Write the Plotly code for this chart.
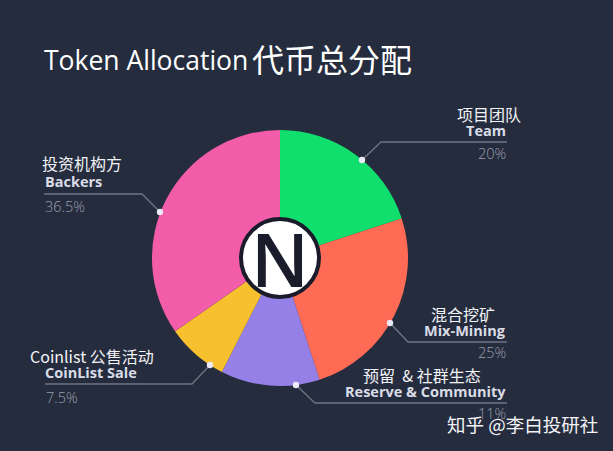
import plotly.graph_objects as go

# ==============================================================================
# DATA
# ==============================================================================

names_en = ['Team', 'Mix-Mining', 'Reserve & Community', 'CoinList Sale', 'Backers']
names_cn = ['项目团队', '混合挖矿', '预留\u00a0\u00a0&\u00a0社群生态', 'Coinlist 公售活动', '投资机构方']
# slice sizes as drawn in the picture (they differ a little from the printed labels)
shares = [20, 25, 12.5, 7.8, 34.7]
share_labels = ['20%', '25%', '11%', '7.5%', '36.5%']

# ==============================================================================
# STYLE / LAYOUT (pixel positions of the 613x451 picture)
# ==============================================================================

W, H = 613, 451
BG = '#252c3e'
FONT = 'Open Sans, Noto Sans CJK SC, sans-serif'
CJK = 'Noto Sans CJK SC, Open Sans, sans-serif'
colors = ['#10df6e', '#ff6b55', '#9580e8', '#f6c02f', '#f25ca8']

# leader line per slice: dot -> elbow -> end
leader_x = [[362, 381, 507], [390, 408, 507], [296, 315, 507], [210, 192, 45], [160, 142, 44]]
leader_y = [[160, 142, 142], [323, 342, 342], [385, 403, 403], [365, 384, 384], [212, 194, 194]]

# label anchors: (x, anchor, y) for each text row
cn_pos = [(523, 'right', 114), (497, 'right', 314), (483, 'right', 375), (28, 'left', 356), (40, 'left', 163)]
en_pos = [(508, 'right', 130), (508, 'right', 330), (508, 'right', 391), (43, 'left', 372), (43, 'left', 181)]
pct_pos = [(508, 'right', 153), (508, 'right', 352), (508, 'right', 413), (44, 'left', 397), (43, 'left', 206)]

fig = go.Figure()

fig.add_trace(go.Pie(
    values=shares,
    labels=names_en,
    sort=False,
    direction='clockwise',
    rotation=0,
    hole=0.3,
    textinfo='none',
    marker=dict(colors=colors, line=dict(width=0)),
    domain=dict(x=[152 / W, 408 / W], y=[1 - 386 / H, 1 - 130 / H]),
    showlegend=False,
))

for lx, ly in zip(leader_x, leader_y):
    fig.add_trace(go.Scatter(
        x=lx, y=ly, mode='lines',
        line=dict(color='#6f7482', width=1.3),
        showlegend=False, hoverinfo='skip',
    ))

annotations = []


def add_text(x, y, text, size, color, family=FONT, anchor='left', weight=None):
    annotations.append(dict(
        x=x, y=y, text=text, showarrow=False, xanchor=anchor, yanchor='middle',
        font=dict(family=family, size=size, color=color, weight=weight),
    ))


# title
add_text(42, 60, 'Token Allocation', 26.5, '#ffffff')
add_text(250, 58, '代币总分配', 32, '#ffffff', CJK)

# slice labels
for i in range(len(shares)):
    x, a, y = cn_pos[i]
    add_text(x, y, names_cn[i], 16, '#f2f3f6', CJK, a)
    x, a, y = en_pos[i]
    add_text(x, y, names_en[i], 14.5, '#d9dce6', FONT, a, 700)
    x, a, y = pct_pos[i]
    add_text(x, y, share_labels[i], 14.5, '#9a9eab', FONT, a, 300)

# centre logo
add_text(280, 258, 'N', 74, '#1a1c2b', FONT, 'center', 600)

# watermark
add_text(445, 424, '知乎 @李白投研社', 18.5, '#f4f4f6', CJK)

# centre disc, then the dots at the start of each leader (shapes sit above the pie)
shapes = [dict(
    type='circle', xref='x', yref='y', x0=241, x1=319, y0=219, y1=297,
    fillcolor='#ffffff', line=dict(color='#1a1c2b', width=4), layer='above',
)]
for lx, ly in zip(leader_x, leader_y):
    shapes.append(dict(
        type='circle', xref='x', yref='y',
        x0=lx[0] - 3.2, x1=lx[0] + 3.2, y0=ly[0] - 3.2, y1=ly[0] + 3.2,
        fillcolor='#ece9f6', line=dict(width=0), layer='above',
    ))

fig.update_layout(
    width=W, height=H,
    margin=dict(l=0, r=0, t=0, b=0),
    paper_bgcolor=BG,
    plot_bgcolor=BG,
    xaxis=dict(range=[0, W], visible=False, fixedrange=True),
    yaxis=dict(range=[H, 0], visible=False, fixedrange=True),
    annotations=annotations,
    shapes=shapes,
)

fig.write_html('out.html', config={'displayModeBar': False},
               post_script="document.body.style.margin='0';document.body.style.background='%s';" % BG)
